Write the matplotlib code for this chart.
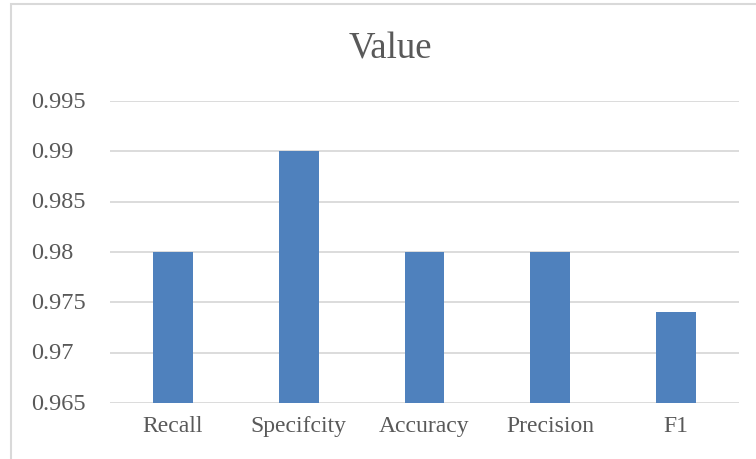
import matplotlib
matplotlib.use('Agg')
import matplotlib.pyplot as plt
from matplotlib.patches import Rectangle
from matplotlib.transforms import blended_transform_factory

# metric names and scores
metrics = ['Recall', 'Specifcity', 'Accuracy', 'Precision', 'F1']
scores = [0.98, 0.99, 0.98, 0.98, 0.974]
yticks = [0.965, 0.97, 0.975, 0.98, 0.985, 0.99, 0.995]
ytick_labels = ['0.965', '0.97', '0.975', '0.98', '0.985', '0.99', '0.995']

plt.rcParams['font.family'] = ['Liberation Serif', 'DejaVu Serif']
text_color = '#595959'
grid_color = '#d9d9d9'

fig = plt.figure(figsize=(7.56, 4.60), dpi=100)
W, H = 756, 460
ax = fig.add_axes([110 / W, 1 - 404 / H, (739 - 110) / W, (404 - 102) / H])

# chart frame, runs off the right and bottom edge
fig.patches.append(Rectangle((11 / W, -0.1), 1.2, 1 - 5 / H + 0.1, transform=fig.transFigure,
                             fill=False, edgecolor=grid_color, linewidth=1.5))

x = range(len(metrics))
ax.bar(x, scores, width=0.315, color='#4f81bd', zorder=3)

ax.set_xlim(-0.5, len(metrics) - 0.5)
ax.set_ylim(0.965, 0.995)
ax.set_yticks(yticks)
ax.set_yticklabels([])
ax.set_xticks(list(x))
ax.set_xticklabels(metrics)
ax.yaxis.grid(True, color=grid_color, linewidth=1.3, zorder=0)
for s in ['top', 'right', 'left', 'bottom']:
    ax.spines[s].set_visible(False)
ax.tick_params(axis='both', length=0, colors=text_color, labelsize=17)
ax.tick_params(axis='x', pad=9)

# y labels are left-aligned in the margin
trans = blended_transform_factory(fig.transFigure, ax.transData)
for v, lbl in zip(yticks, ytick_labels):
    ax.text(31 / W, v, lbl, transform=trans, ha='left', va='center',
            fontsize=17.5, color=text_color, clip_on=False)

fig.text(390 / W, 1 - 49 / H, 'Value', ha='center', va='center', fontsize=26.5, color=text_color)

fig.savefig('out.png', dpi=100)
